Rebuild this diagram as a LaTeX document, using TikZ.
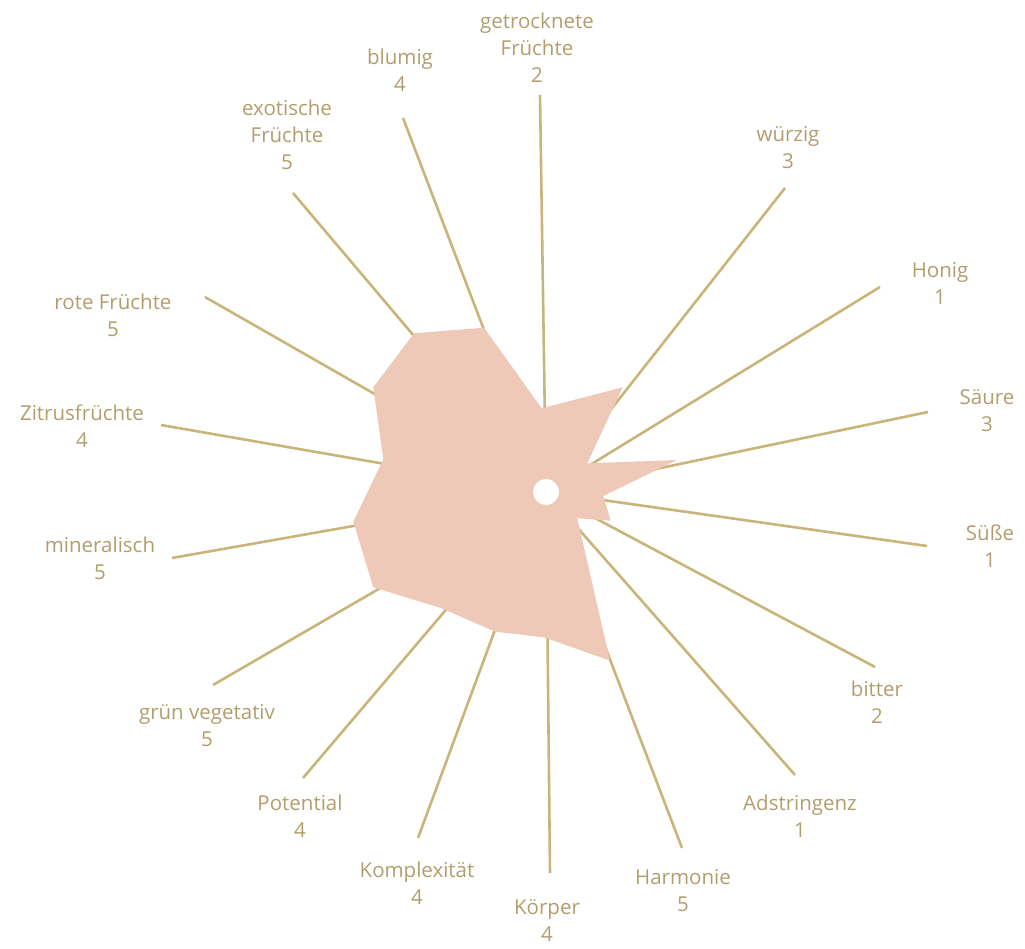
\documentclass[tikz,border=0pt]{standalone}
\usepackage{fontspec}
\setmainfont{Open Sans}
\definecolor{axiscol}{RGB}{201,181,122}
\definecolor{textcol}{RGB}{178,158,108}
\definecolor{areacol}{RGB}{238,201,183}
\tikzset{
  axisline/.style={draw=axiscol, line width=2.6pt},
  lbl/.style={text=textcol, align=center, inner sep=0pt, font=\fontsize{20.5}{27}\selectfont},
  area/.style={fill=areacol, draw=none},
}
\begin{document}
\begin{tikzpicture}[x=1pt,y=-1pt]
\useasboundingbox (0,0) rectangle (1025,949);
\coordinate (c) at (546,492);
% outer ends of axes
\coordinate (e1) at (540,95);
\coordinate (e2) at (785,188);
\coordinate (e3) at (880,287);
\coordinate (e4) at (928,412);
\coordinate (e5) at (927,546);
\coordinate (e6) at (875,667);
\coordinate (e7) at (795,775);
\coordinate (e8) at (682,848);
\coordinate (e9) at (550,873);
\coordinate (e10) at (418,838);
\coordinate (e11) at (303,778);
\coordinate (e12) at (213,685);
\coordinate (e13) at (172,558);
\coordinate (e14) at (161,425);
\coordinate (e15) at (205,297);
\coordinate (e16) at (293,193);
\coordinate (e17) at (403,118);
\foreach \i in {1,...,17} { \draw[axisline] (c) -- (e\i); }
% data polygon
\coordinate (v1) at (541.7,408.3);
\coordinate (v2) at (622.7,387.3);
\coordinate (v3) at (587.3,463.3);
\coordinate (v4) at (677,460);
\coordinate (v5) at (603.3,496);
\coordinate (v6) at (610.7,520.7);
\coordinate (v7) at (577.3,518.3);
\coordinate (v8) at (610,660.7);
\coordinate (v9) at (544,637.3);
\coordinate (v10) at (495,631.7);
\coordinate (v11) at (441.7,608.3);
\coordinate (v12) at (373.3,587.3);
\coordinate (v13) at (353.3,521.7);
\coordinate (v14) at (383.3,459.3);
\coordinate (v15) at (373.3,387.3);
\coordinate (v16) at (414,333.3);
\coordinate (v17) at (484,327.7);
\path[area] (v1) -- (v2) -- (v3) -- (v4) -- (v5) -- (v6) -- (v7) -- (v8) -- (v9) -- (v10) -- (v11) -- (v12) -- (v13) -- (v14) -- (v15) -- (v16) -- (v17) -- cycle;
\node[circle, fill=white, minimum size=26pt, inner sep=0pt] (dot) at (c) {};
% labels
\node[lbl] (l1) at (537,47.5) {getrocknete\\Früchte\\2};
\node[lbl] (l2) at (788,148) {würzig\\3};
\node[lbl] (l3) at (940,283) {Honig\\1};
\node[lbl] (l4) at (987,411) {Säure\\3};
\node[lbl] (l5) at (990,546) {Süße\\1};
\node[lbl] (l6) at (877,702) {bitter\\2};
\node[lbl] (l7) at (800,816) {Adstringenz\\1};
\node[lbl] (l8) at (683,891) {Harmonie\\5};
\node[lbl] (l9) at (547,921) {Körper\\4};
\node[lbl] (l10) at (417,883) {Komplexität\\4};
\node[lbl] (l11) at (300,816) {Potential\\4};
\node[lbl] (l12) at (207,726) {grün vegetativ\\5};
\node[lbl] (l13) at (100,558) {mineralisch\\5};
\node[lbl] (l14) at (82,426) {Zitrusfrüchte\\4};
\node[lbl] (l15) at (113,315) {rote Früchte\\5};
\node[lbl] (l16) at (287,135) {exotische\\Früchte\\5};
\node[lbl] (l17) at (400,70) {blumig\\4};
\end{tikzpicture}
\end{document}
